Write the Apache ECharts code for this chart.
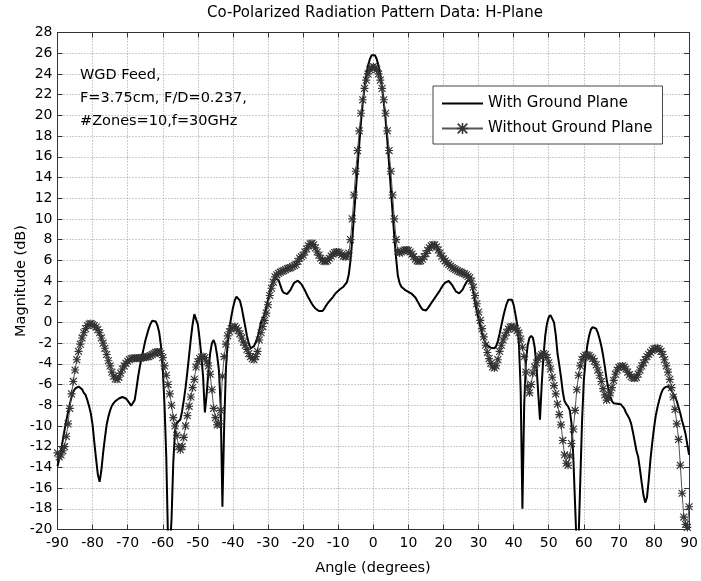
<!DOCTYPE html>
<html>
<head>
<meta charset="utf-8">
<script src="https://cdn.jsdelivr.net/npm/echarts@6/dist/echarts.min.js"></script>
<style>
  html, body { margin: 0; padding: 0; background: #fff; }
  #chart { width: 701px; height: 581px; }
</style>
</head>
<body>
<div id="chart"></div>
<script>
// Sampling of the angle axis (degrees)
const ANGLE_START = -90;
const ANGLE_STEP = 0.5;

// Axis ranges and tick spacing
const X_MIN = -90, X_MAX = 90, X_TICK = 10;
const Y_MIN = -20, Y_MAX = 28, Y_TICK = 2;

const seriesNames = ['With Ground Plane', 'Without Ground Plane'];

// Co-polar magnitude (dB) with ground plane, one value per 0.5 degree from -90 to 90
const withGround = [
  -13.9, -13.2, -12.4, -11.4, -10.4, -9.5, -8.7, -7.9, -7.2, -6.7,
  -6.4, -6.25, -6.2, -6.25, -6.45, -6.8, -7.0, -7.5, -8.1, -8.8,
  -9.9, -11.6, -13.2, -14.7, -15.4, -14.3, -12.6, -11.2, -9.9, -9.1,
  -8.5, -8.05, -7.8, -7.6, -7.45, -7.35, -7.25, -7.2, -7.2, -7.35,
  -7.55, -7.8, -8.05, -8.0, -7.5, -6.4, -5.2, -4.2, -3.4, -2.6,
  -1.8, -1.2, -0.6, -0.15, 0.15, 0.25, 0.1, -0.3, -1.0, -2.3,
  -4.5, -8.0, -13.0, -21.0, -22.0, -19.0, -13.5, -10.5, -9.7, -9.6,
  -9.4, -8.6, -7.5, -6.3, -4.8, -3.2, -1.6, -0.2, 0.8, 0.7,
  -0.2, -1.6, -3.2, -5.3, -8.7, -7.0, -4.8, -3.0, -2.0, -1.7,
  -2.2, -3.2, -4.6, -8.0, -17.8, -10.0, -4.5, -2.0, -0.6, 0.5,
  1.4, 2.1, 2.5, 2.5, 2.1, 1.4, 0.5, -0.4, -1.3, -2.0,
  -2.5, -2.6, -2.3, -1.9, -1.5, -0.8, 0.0, 0.4, 0.8, 1.5,
  2.2, 3.0, 3.6, 4.0, 4.25, 4.35, 4.1, 3.6, 3.1, 2.85,
  2.75, 2.75, 2.9, 3.2, 3.55, 3.85, 4.0, 4.03, 3.95, 3.7,
  3.4, 3.1, 2.75, 2.4, 2.1, 1.8, 1.55, 1.35, 1.2, 1.1,
  1.05, 1.1, 1.3, 1.6, 1.85, 2.05, 2.25, 2.45, 2.7, 2.9,
  3.05, 3.2, 3.3, 3.45, 3.6, 3.9, 4.6, 6.0, 8.0, 10.3,
  12.6, 15.0, 17.2, 19.4, 21.2, 22.7, 23.9, 24.8, 25.4, 25.8,
  25.9, 25.8, 25.4, 24.8, 23.9, 22.7, 21.2, 19.6, 17.5, 15.3,
  12.9, 10.6, 8.2, 6.2, 4.5, 3.8, 3.45, 3.3, 3.15, 3.05,
  2.95, 2.85, 2.75, 2.6, 2.4, 2.1, 1.8, 1.5, 1.25, 1.13,
  1.15, 1.35, 1.6, 1.85, 2.1, 2.35, 2.6, 2.85, 3.1, 3.4,
  3.65, 3.85, 4.0, 4.0, 3.85, 3.6, 3.3, 3.0, 2.85, 2.8,
  2.9, 3.2, 3.55, 3.85, 4.1, 4.2, 3.8, 3.0, 1.9, 1.1,
  0.3, -0.4, -1.1, -1.6, -2.0, -2.2, -2.35, -2.45, -2.5, -2.5,
  -2.3, -1.8, -1.1, -0.3, 0.5, 1.2, 1.8, 2.2, 2.35, 2.2,
  1.7, 0.8, -0.2, -2.0, -6.5, -18.0, -8.0, -3.8, -2.2, -1.5,
  -1.3, -1.5, -2.4, -4.2, -6.8, -9.4, -6.0, -3.2, -1.3, -0.1,
  0.5, 0.7, 0.6, 0.0, -1.2, -3.0, -4.1, -5.3, -6.7, -7.6,
  -7.9, -8.1, -8.5, -9.8, -13.0, -17.5, -22.0, -21.0, -15.2, -9.5,
  -5.6, -3.6, -2.2, -1.3, -0.7, -0.45, -0.4, -0.6, -1.0, -1.6,
  -2.3, -3.2, -4.3, -5.5, -6.4, -7.1, -7.6, -7.8, -7.85, -7.85,
  -7.85, -7.9, -8.0, -8.3, -8.7, -9.0, -9.3, -9.8, -10.6, -11.5,
  -12.4, -13.0, -14.2, -15.5, -16.7, -17.4, -16.9, -15.2, -13.2, -11.6,
  -10.2, -9.0, -8.2, -7.5, -6.9, -6.5, -6.3, -6.15, -6.15, -6.3,
  -6.6, -6.9, -7.2, -7.6, -8.2, -8.8, -9.5, -10.1, -10.8, -11.8,
  -12.8
];

// Co-polar magnitude (dB) without ground plane, same angle sampling
const withoutGround = [
  -12.6, -13.0, -12.8, -12.4, -12.0, -11.0, -9.8, -8.3, -6.9, -5.7,
  -4.6, -3.6, -2.8, -2.1, -1.5, -1.0, -0.6, -0.3, -0.15, -0.1,
  -0.2, -0.3, -0.45, -0.7, -1.0, -1.5, -2.0, -2.5, -3.1, -3.7,
  -4.2, -4.8, -5.2, -5.45, -5.5, -5.3, -4.9, -4.5, -4.2, -3.95,
  -3.75, -3.6, -3.5, -3.45, -3.45, -3.45, -3.45, -3.45, -3.4, -3.4,
  -3.35, -3.3, -3.3, -3.2, -3.1, -3.0, -2.9, -2.85, -2.85, -3.0,
  -3.4, -4.2, -5.1, -6.0, -6.9, -8.0, -9.2, -10.0, -10.9, -12.0,
  -12.3, -12.0, -11.1, -10.0, -9.0, -8.1, -7.2, -6.3, -5.5, -4.3,
  -3.8, -3.5, -3.35, -3.3, -3.4, -3.8, -4.2, -5.0, -6.5, -8.3,
  -9.2, -9.9, -9.8, -8.5, -5.2, -3.3, -2.1, -1.3, -0.9, -0.6,
  -0.45, -0.4, -0.55, -0.8, -1.1, -1.5, -1.9, -2.2, -2.6, -3.0,
  -3.3, -3.5, -3.6, -3.3, -2.8, -1.7, -1.0, -0.4, 0.2, 0.9,
  1.7, 2.6, 3.3, 3.9, 4.4, 4.6, 4.75, 4.85, 4.95, 5.0,
  5.1, 5.2, 5.25, 5.3, 5.4, 5.5, 5.6, 5.9, 6.2, 6.35,
  6.5, 6.8, 7.1, 7.4, 7.6, 7.65, 7.5, 7.2, 6.8, 6.5,
  6.2, 6.0, 5.9, 5.9, 6.0, 6.2, 6.4, 6.6, 6.75, 6.8,
  6.8, 6.7, 6.55, 6.4, 6.35, 6.4, 6.7, 8.0, 10.0, 12.3,
  14.6, 16.6, 18.5, 20.2, 21.5, 22.6, 23.4, 24.0, 24.4, 24.6,
  24.7, 24.6, 24.4, 24.0, 23.4, 22.6, 21.5, 20.2, 18.5, 16.6,
  14.6, 12.3, 10.0, 8.0, 6.9, 6.7, 6.8, 6.9, 7.0, 7.0,
  6.95, 6.8, 6.6, 6.35, 6.1, 5.95, 5.9, 5.95, 6.1, 6.35,
  6.65, 6.95, 7.2, 7.4, 7.5, 7.5, 7.3, 7.0, 6.7, 6.4,
  6.15, 5.95, 5.75, 5.6, 5.45, 5.3, 5.2, 5.1, 5.0, 4.9,
  4.85, 4.75, 4.7, 4.6, 4.45, 4.3, 4.0, 3.4, 2.6, 1.8,
  1.0, 0.2, -0.6, -1.4, -2.2, -2.9, -3.5, -3.95, -4.3, -4.4,
  -4.2, -3.6, -2.8, -2.2, -1.7, -1.3, -0.95, -0.65, -0.45, -0.4,
  -0.45, -0.6, -0.8, -1.0, -1.6, -2.4, -3.3, -4.8, -6.2, -6.8,
  -6.0, -4.9, -4.3, -3.9, -3.5, -3.25, -3.1, -3.0, -3.1, -3.4,
  -3.9, -4.5, -5.3, -6.1, -6.9, -7.9, -8.9, -9.9, -11.4, -12.8,
  -13.6, -13.8, -12.9, -11.7, -10.3, -8.5, -6.5, -5.1, -4.2, -3.6,
  -3.3, -3.15, -3.15, -3.2, -3.35, -3.5, -3.75, -4.1, -4.6, -5.1,
  -5.7, -6.4, -7.0, -7.5, -7.3, -6.8, -6.3, -5.6, -5.0, -4.6,
  -4.35, -4.25, -4.2, -4.3, -4.5, -4.8, -5.05, -5.25, -5.35, -5.4,
  -5.3, -5.0, -4.6, -4.2, -3.9, -3.6, -3.3, -3.1, -2.9, -2.7,
  -2.55, -2.5, -2.5, -2.6, -2.8, -3.1, -3.6, -4.2, -4.8, -5.5,
  -6.3, -7.2, -8.4, -9.8, -11.3, -13.8, -16.5, -18.8, -19.5, -19.8,
  -17.8
];

const annotationLines = ['WGD Feed,', 'F=3.75cm, F/D=0.237,', '#Zones=10,f=30GHz'];
const titleText = 'Co-Polarized Radiation Pattern Data: H-Plane';
const xName = 'Angle (degrees)';
const yName = 'Magnitude (dB)';

function toPairs(values) {
  return values.map((v, i) => [ANGLE_START + i * ANGLE_STEP, v]);
}

// Eight-armed asterisk marker built from four thin bars
const STAR = 'path://M0 43L100 43L100 57L0 57Z M43 0L57 0L57 100L43 100Z ' +
             'M12 2L98 88L88 98L2 12Z M88 2L98 12L12 98L2 88Z';

const FONT = 'DejaVu Sans';
const AXIS_COLOR = '#333';
const GRID_LINE = { type: [1, 2], color: '#9a9a9a', width: 1 };

const chart = echarts.init(document.getElementById('chart'), null, { renderer: 'canvas' });

const plot = { left: 57.5, right: 8.5, top: 32.5, bottom: 51.5 };

chart.setOption({
  animation: false,
  backgroundColor: '#fff',
  grid: { left: plot.left, right: plot.right, top: plot.top, bottom: plot.bottom, containLabel: false },
  xAxis: [
    {
      type: 'value', min: X_MIN, max: X_MAX, interval: X_TICK, position: 'bottom',
      axisLine: { show: true, onZero: false, lineStyle: { color: AXIS_COLOR, width: 1 } },
      axisTick: { show: true, inside: true, length: 5, lineStyle: { color: AXIS_COLOR } },
      axisLabel: { color: '#000', fontSize: 14, fontFamily: FONT, margin: 7 },
      splitLine: { show: true, lineStyle: GRID_LINE }
    },
    {
      type: 'value', min: X_MIN, max: X_MAX, interval: X_TICK, position: 'top',
      axisLine: { show: true, onZero: false, lineStyle: { color: AXIS_COLOR, width: 1 } },
      axisTick: { show: true, inside: true, length: 5, lineStyle: { color: AXIS_COLOR } },
      axisLabel: { show: false }, splitLine: { show: false }
    }
  ],
  yAxis: [
    {
      type: 'value', min: Y_MIN, max: Y_MAX, interval: Y_TICK, position: 'left',
      axisLine: { show: true, onZero: false, lineStyle: { color: AXIS_COLOR, width: 1 } },
      axisTick: { show: true, inside: true, length: 5, lineStyle: { color: AXIS_COLOR } },
      axisLabel: { color: '#000', fontSize: 14, fontFamily: FONT, margin: 5 },
      splitLine: { show: true, lineStyle: GRID_LINE }
    },
    {
      type: 'value', min: Y_MIN, max: Y_MAX, interval: Y_TICK, position: 'right',
      axisLine: { show: true, onZero: false, lineStyle: { color: AXIS_COLOR, width: 1 } },
      axisTick: { show: true, inside: true, length: 5, lineStyle: { color: AXIS_COLOR } },
      axisLabel: { show: false }, splitLine: { show: false }
    }
  ],
  legend: {
    orient: 'vertical',
    left: 433, top: 86,
    padding: [10, 10, 8, 8],
    itemGap: 10,
    itemWidth: 41,
    itemHeight: 14,
    backgroundColor: '#fff',
    borderColor: '#444',
    borderWidth: 1,
    borderRadius: 0,
    textStyle: { fontSize: 15, fontFamily: FONT, color: '#000' },
    data: [
      { name: seriesNames[0], itemStyle: { opacity: 0 } },
      { name: seriesNames[1], itemStyle: { color: '#333' } }
    ]
  },
  series: [
    {
      name: seriesNames[0],
      type: 'line',
      data: toPairs(withGround),
      symbol: 'none',
      lineStyle: { color: '#000', width: 2 },
      itemStyle: { color: '#000' },
      clip: true
    },
    {
      name: seriesNames[1],
      type: 'line',
      data: toPairs(withoutGround),
      symbol: STAR,
      symbolSize: 8,
      showAllSymbol: true,
      lineStyle: { color: '#555', width: 1 },
      itemStyle: { color: '#333' },
      clip: true
    }
  ],
  graphic: [
    {
      type: 'text', x: 375, y: 13, silent: true,
      style: { text: titleText, font: '15px "DejaVu Sans"', fill: '#000', align: 'center', verticalAlign: 'middle' }
    },
    {
      type: 'text', x: 373, y: 568, silent: true,
      style: { text: xName, font: '14.5px "DejaVu Sans"', fill: '#000', align: 'center', verticalAlign: 'middle' }
    },
    {
      type: 'text', x: 21, y: 281, rotation: Math.PI / 2, silent: true,
      style: { text: yName, font: '14.5px "DejaVu Sans"', fill: '#000', align: 'center', verticalAlign: 'middle' }
    },
    ...annotationLines.map((t, i) => ({
      type: 'text', x: 80, y: 75 + i * 23.3, silent: true, z: 10,
      style: { text: t, font: '14.5px "DejaVu Sans"', fill: '#000', align: 'left', verticalAlign: 'middle' }
    }))
  ]
});
</script>
</body>
</html>
